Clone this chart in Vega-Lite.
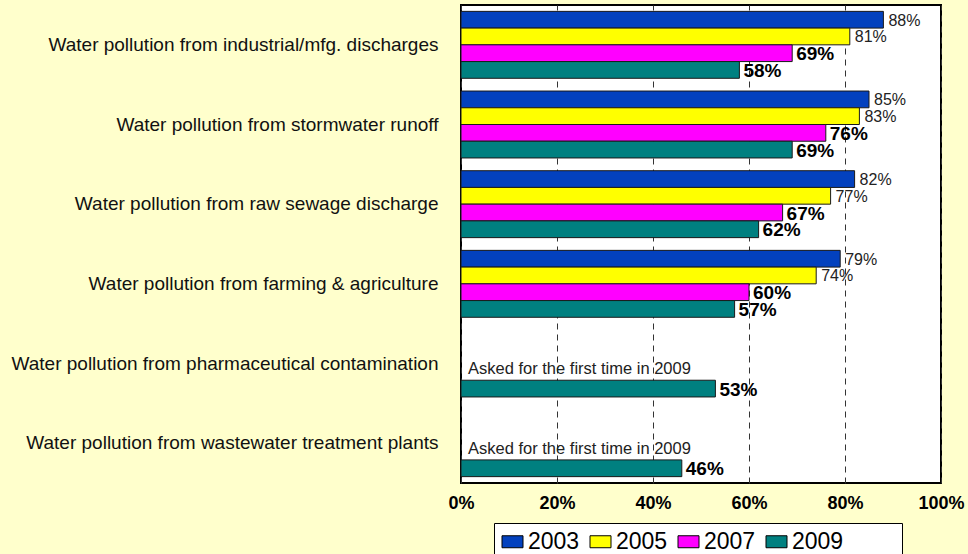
{
  "$schema": "https://vega.github.io/schema/vega-lite/v6.json",
  "width": 480,
  "height": 478,
  "padding": {"left": 11, "top": 5, "right": 5, "bottom": 0},
  "background": "#FFFFCC",
  "config": {
    "font": "Liberation Sans",
    "view": {"stroke": "#000000", "strokeWidth": 2, "fill": "#FFFFFF"}
  },
  "datasets": {
    "bars": [
      {"cat": "Water pollution from industrial/mfg. discharges", "year": "2003", "value": 0.88},
      {"cat": "Water pollution from industrial/mfg. discharges", "year": "2005", "value": 0.81},
      {"cat": "Water pollution from industrial/mfg. discharges", "year": "2007", "value": 0.69},
      {"cat": "Water pollution from industrial/mfg. discharges", "year": "2009", "value": 0.58},
      {"cat": "Water pollution from stormwater runoff", "year": "2003", "value": 0.85},
      {"cat": "Water pollution from stormwater runoff", "year": "2005", "value": 0.83},
      {"cat": "Water pollution from stormwater runoff", "year": "2007", "value": 0.76},
      {"cat": "Water pollution from stormwater runoff", "year": "2009", "value": 0.69},
      {"cat": "Water pollution from raw sewage discharge", "year": "2003", "value": 0.82},
      {"cat": "Water pollution from raw sewage discharge", "year": "2005", "value": 0.77},
      {"cat": "Water pollution from raw sewage discharge", "year": "2007", "value": 0.67},
      {"cat": "Water pollution from raw sewage discharge", "year": "2009", "value": 0.62},
      {"cat": "Water pollution from farming & agriculture", "year": "2003", "value": 0.79},
      {"cat": "Water pollution from farming & agriculture", "year": "2005", "value": 0.74},
      {"cat": "Water pollution from farming & agriculture", "year": "2007", "value": 0.60},
      {"cat": "Water pollution from farming & agriculture", "year": "2009", "value": 0.57},
      {"cat": "Water pollution from pharmaceutical contamination", "year": "2009", "value": 0.53},
      {"cat": "Water pollution from wastewater treatment plants", "year": "2009", "value": 0.46}
    ],
    "notes": [
      {"cat": "Water pollution from pharmaceutical contamination", "year": "2007", "pos": 0, "note": "Asked for the first time in 2009"},
      {"cat": "Water pollution from wastewater treatment plants", "year": "2007", "pos": 0, "note": "Asked for the first time in 2009"}
    ]
  },
  "encoding": {
    "y": {
      "field": "cat",
      "type": "nominal",
      "sort": [
        "Water pollution from industrial/mfg. discharges",
        "Water pollution from stormwater runoff",
        "Water pollution from raw sewage discharge",
        "Water pollution from farming & agriculture",
        "Water pollution from pharmaceutical contamination",
        "Water pollution from wastewater treatment plants"
      ],
      "scale": {"paddingInner": 0.16, "paddingOuter": 0.08},
      "axis": {
        "title": null,
        "labelFontSize": 19,
        "labelColor": "#111111",
        "labelPadding": 23,
        "ticks": false,
        "tickSize": 0,
        "domain": false,
        "labelLimit": 600
      }
    },
    "yOffset": {
      "field": "year",
      "type": "nominal",
      "scale": {"domain": ["2003", "2005", "2007", "2009"], "paddingInner": 0, "paddingOuter": 0}
    }
  },
  "layer": [
    {
      "data": {"name": "bars"},
      "mark": {"type": "bar", "stroke": "#1a1a1a", "strokeWidth": 1},
      "encoding": {
        "x": {
          "field": "value",
          "type": "quantitative",
          "scale": {"domain": [0, 1]},
          "axis": {
            "title": null,
            "values": [0, 0.2, 0.4, 0.6, 0.8, 1],
            "format": ".0%",
            "labelFontSize": 18,
            "labelFontWeight": "bold",
            "labelColor": "#000000",
            "labelPadding": 11,
            "labelFlush": false,
            "ticks": false,
            "tickSize": 0,
            "domain": false,
            "grid": true,
            "gridColor": "#333333",
            "gridDash": [6, 5],
            "gridWidth": 1
          }
        },
        "color": {
          "field": "year",
          "type": "nominal",
          "scale": {
            "domain": ["2003", "2005", "2007", "2009"],
            "range": ["#0341BE", "#FFFF00", "#FF00FF", "#008080"]
          },
          "legend": {
            "title": null,
            "orient": "none",
            "direction": "horizontal",
            "legendX": 33,
            "legendY": 518,
            "fillColor": "#FFFFFF",
            "strokeColor": "#000000",
            "padding": 7,
            "symbolType": "M-1,-0.57H1V0.57H-1Z",
            "symbolSize": 441,
            "symbolStrokeColor": "#000000",
            "symbolStrokeWidth": 1,
            "labelFontSize": 23,
            "labelColor": "#000000",
            "labelOffset": 4,
            "columnPadding": 8,
            "labelExpr": "datum.label == '2009' ? '2009\u00a0\u00a0\u00a0\u00a0\u00a0\u00a0\u00a0\u00a0\u200b' : datum.label",
            "encode": {
              "symbols": {"update": {"stroke": {"value": "#000000"}, "strokeWidth": {"value": 1}}}
            }
          }
        }
      }
    },
    {
      "data": {"name": "bars"},
      "transform": [{"filter": "datum.year == '2003' || datum.year == '2005'"}],
      "mark": {"type": "text", "align": "left", "baseline": "middle", "dx": 5, "dy": 1, "fontSize": 16, "color": "#222222"},
      "encoding": {
        "x": {"field": "value", "type": "quantitative"},
        "text": {"field": "value", "type": "quantitative", "format": ".0%"}
      }
    },
    {
      "data": {"name": "bars"},
      "transform": [{"filter": "datum.year == '2007' || datum.year == '2009'"}],
      "mark": {"type": "text", "align": "left", "baseline": "middle", "dx": 4, "dy": 1, "fontSize": 19, "fontWeight": "bold", "color": "#000000"},
      "encoding": {
        "x": {"field": "value", "type": "quantitative"},
        "text": {"field": "value", "type": "quantitative", "format": ".0%"}
      }
    },
    {
      "data": {"name": "notes"},
      "mark": {"type": "text", "align": "left", "baseline": "middle", "dx": 7, "dy": -3, "fontSize": 16.5, "color": "#222222"},
      "encoding": {
        "x": {"field": "pos", "type": "quantitative"},
        "text": {"field": "note", "type": "nominal"}
      }
    }
  ]
}
